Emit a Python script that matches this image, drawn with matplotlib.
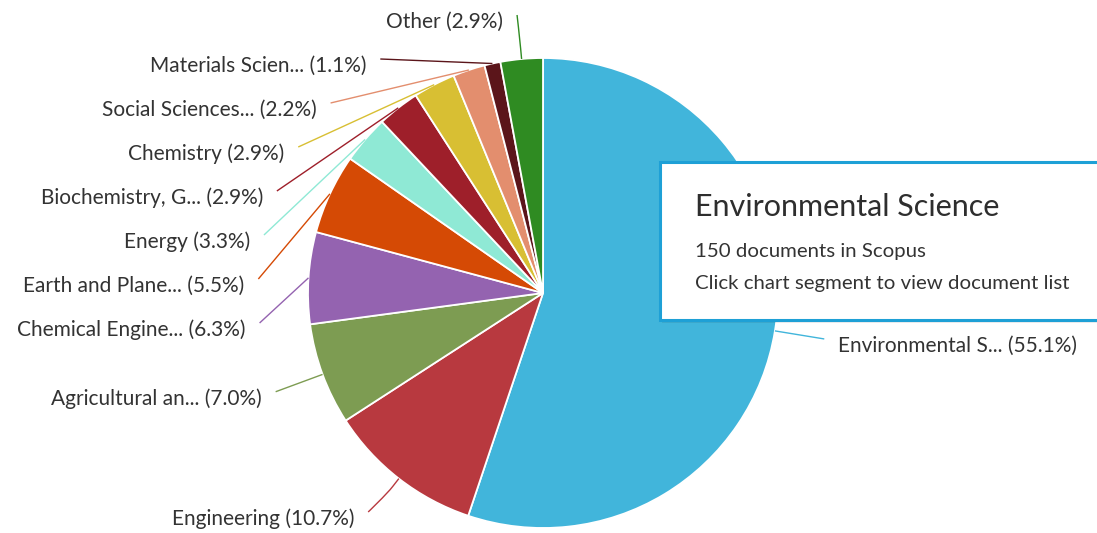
import matplotlib
matplotlib.use("Agg")

import matplotlib.pyplot as plt
from matplotlib.path import Path
from matplotlib.patches import PathPatch, Rectangle
import numpy as np

plt.rcParams['font.family'] = ['Lato', 'DejaVu Sans']

# subject areas, share of documents (%)
labels = ['Environmental S...', 'Engineering', 'Agricultural an...',
          'Chemical Engine...', 'Earth and Plane...', 'Energy',
          'Biochemistry, G...', 'Chemistry', 'Social Sciences...',
          'Materials Scien...', 'Other']
shares = [55.1, 10.7, 7.0, 6.3, 5.5, 3.3, 2.9, 2.9, 2.2, 1.1, 2.9]
colors = ['#41b5db', '#b8393f', '#7d9c52', '#9463b0', '#d54a05', '#8fe9d5',
          '#9e1f2a', '#d8bf33', '#e38e6e', '#5b151a', '#2f8b22']

tip_title = 'Environmental Science'
tip_lines = ['150 documents in Scopus', 'Click chart segment to view document list']

# ------------------ layout ------------------ #
W, H = 1097, 533
cx, cy = 543, H - 293
r = 235
R = 285           # radius where connectors meet the labels
slot = 44         # vertical spacing between stacked labels
ytop, ybot = H - 15, H - 512

fig = plt.figure(figsize=(W / 100, H / 100), dpi=100)
ax = fig.add_axes([0, 0, 1, 1])

wedges, _ = ax.pie(shares, colors=colors, startangle=90, counterclock=False,
                   center=(cx, cy), radius=r,
                   wedgeprops=dict(edgecolor='white', linewidth=1.3))

ax.set_xlim(0, W)
ax.set_ylim(0, H)
ax.set_aspect('equal')
ax.axis('off')

# mid angle of every slice (radians, math convention)
mids = [np.deg2rad((w.theta1 + w.theta2) / 2) for w in wedges]


def get_x(y, left):
    dy = np.clip(y - cy, -R, R)
    return cx + (-1 if left else 1) * np.sqrt(R ** 2 - dy ** 2)


# place labels: natural position, then push down to avoid overlaps
anchors = {}
for left in (True, False):
    idx = [i for i, a in enumerate(mids) if (np.cos(a) < 0) == left]
    idx.sort(key=lambda i: -np.sin(mids[i]))
    prev = None
    for i in idx:
        nat = cy + R * np.sin(mids[i])
        y = min(nat, ytop)
        if prev is not None:
            y = min(y, prev - slot)
        y = max(y, ybot)
        prev = y
        moved = abs(nat - y) >= 10
        anchors[i] = (get_x(y if moved else nat, left), y, left, moved)

for i, (x, y, left, moved) in anchors.items():
    a = mids[i]
    touch = (cx + r * np.cos(a), cy + r * np.sin(a))
    if moved:
        path = Path([(x, y), touch], [Path.MOVETO, Path.LINETO])
    else:
        # soft connector bending into the radial direction
        brk = (cx + (r + 10) * np.cos(a), cy + (r + 10) * np.sin(a))
        ctl = (2 * brk[0] - touch[0], 2 * brk[1] - touch[1])
        path = Path([(x, y), (x, y), ctl, brk, touch],
                    [Path.MOVETO, Path.CURVE4, Path.CURVE4, Path.CURVE4, Path.LINETO])
    ax.add_patch(PathPatch(path, facecolor='none', edgecolor=colors[i], lw=1.0))
    txt = '%s (%.1f%%)' % (labels[i], shares[i])
    if left:
        ax.text(x - 14, y - 7, txt, ha='right', va='center', fontsize=15, color='#333333')
    else:
        ax.text(x + 14, y - 7, txt, ha='left', va='center', fontsize=15, color='#333333')

# tooltip box
ax.add_patch(Rectangle((662, H - 323), 460, 158, facecolor='#000000', alpha=0.07,
                       edgecolor='none', zorder=4))
ax.add_patch(Rectangle((660, H - 320), 460, 158, facecolor='white',
                       edgecolor='#1ea0d6', lw=2.2, zorder=5))
ax.text(695, H - 207, tip_title, fontsize=22, color='#2e2e2e', va='center', zorder=6)
ax.text(695, H - 251, tip_lines[0], fontsize=14.7, color='#333333', va='center', zorder=6)
ax.text(695, H - 284, tip_lines[1], fontsize=14.7, color='#333333', va='center', zorder=6)

plt.savefig('out.png', dpi=100)
